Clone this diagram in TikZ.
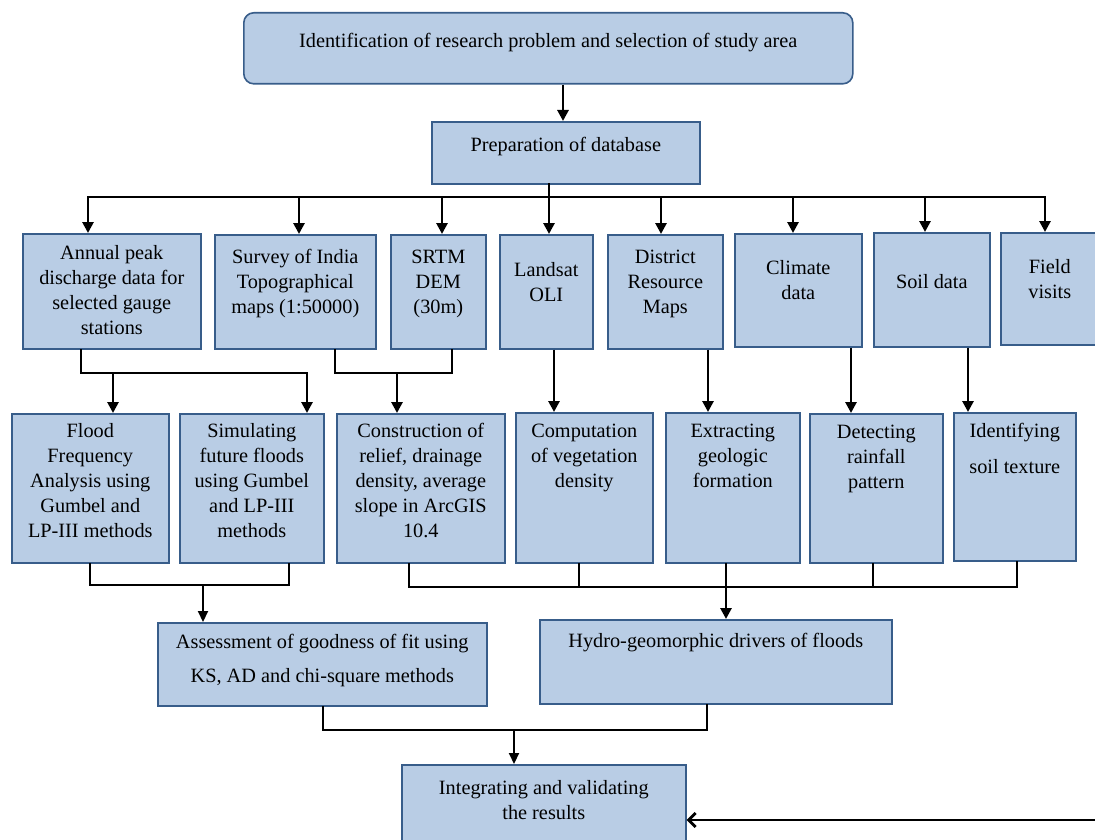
\documentclass[tikz,border=0pt]{standalone}
\usepackage{fontspec}
\setmainfont{Liberation Serif}
\usetikzlibrary{arrows.meta}
\definecolor{boxfill}{HTML}{B9CDE5}
\definecolor{boxline}{HTML}{385D8A}
\newcommand\bxt[4]{\begin{minipage}[c][#2pt][t]{#1pt}\centering\vspace*{#3pt}\strut #4\end{minipage}}
\begin{document}
\begin{tikzpicture}[x=1pt,y=-1pt,
  box/.style={draw=boxline, fill=boxfill, line width=1.6pt, inner sep=0pt, anchor=north west,
              font=\fontsize{20.3}{25}\selectfont},
  ln/.style={line width=2.1pt, line cap=rect},
  arr/.style={line width=2.8pt, -{Triangle[length=11pt,width=11pt]}},
  arrs/.style={line width=2.1pt, -{Triangle[length=11pt,width=10pt]}}]
\fill[white] (0,0) rectangle (1095,840);
\useasboundingbox (0,0) rectangle (1095,840);

% boxes
\node[box, rounded corners=10pt] (top) at (243,12) {\bxt{609}{71}{17}{Identification of research problem and selection of study area}};
\node[box] (prep) at (431,121) {\bxt{268}{62}{12}{Preparation of database}};

\node[box] (annual) at (22,233) {\bxt{178}{115}{8}{Annual peak\\discharge data for\\selected gauge\\stations}};
\node[box] (survey) at (214,234) {\bxt{161}{114}{11}{Survey of India\\Topographical\\maps (1:50000)}};
\node[box] (srtm) at (390,234) {\bxt{95}{114}{11}{SRTM\\DEM\\(30m)}};
\node[box] (landsat) at (499,234) {\bxt{93}{114}{24}{Landsat\\OLI}};
\node[box] (district) at (607,234) {\bxt{115}{114}{11}{District\\Resource\\Maps}};
\node[box] (climate) at (734,233) {\bxt{127}{113}{23}{Climate\\data}};
\node[box] (soil) at (873,232) {\bxt{116}{114}{38}{Soil data}};
\node[box] (field) at (1000,232) {\bxt{98}{112}{23}{Field\\visits}};

\node[box] (flood) at (11,413) {\bxt{157}{149}{6}{Flood\\Frequency\\Analysis using\\Gumbel and\\LP-III methods}};
\node[box] (sim) at (179,413) {\bxt{144}{149}{6}{Simulating\\future floods\\using Gumbel\\and LP-III\\methods}};
\node[box] (constr) at (336,413) {\bxt{168}{149}{6}{Construction of\\relief, drainage\\density, average\\slope in ArcGIS\\10.4}};
\node[box] (comp) at (515,412) {\bxt{137}{150}{7}{Computation\\of vegetation\\density}};
\node[box] (extr) at (665,412) {\bxt{134}{150}{7}{Extracting\\geologic\\formation}};
\node[box] (detect) at (809,413) {\bxt{133}{149}{7}{Detecting\\rainfall\\pattern}};
\node[box] (ident) at (953,412) {\bxt{122}{148}{7}{Identifying\\[11pt]soil texture}};

\node[box] (assess) at (157,622) {\bxt{329}{83}{8}{Assessment of goodness of fit using\\[9pt]KS, AD and chi-square methods}};
\node[box] (hydro) at (539,619) {\bxt{352}{84}{10}{Hydro-geomorphic drivers of floods}};
\node[box] (integ) at (401,764) {\bxt{284}{85}{12}{Integrating and validating\\the results}};

% top -> prep
\coordinate (a0) at (563,100);
\draw[arr] (top.south -| a0) -- (prep.north -| a0);

% prep -> data sources
\coordinate (b1) at (88,197);  \coordinate (b2) at (299,197);
\coordinate (b3) at (442,197); \coordinate (b4) at (549,197);
\coordinate (b5) at (661,197); \coordinate (b6) at (793,197);
\coordinate (b7) at (925,197); \coordinate (b8) at (1045,197);
\draw[ln, line width=2.6pt] (prep.south -| b4) -- (b4);
\draw[ln, line width=2.6pt] (b1) -- (b8);
\foreach \c/\n in {b1/annual,b2/survey,b3/srtm,b4/landsat,b5/district,b6/climate,b7/soil,b8/field}
  \draw[arr] (\c) -- (\n.north -| \c);

% data sources -> analyses
\coordinate (c1) at (81,373); \coordinate (c2) at (113,373); \coordinate (c3) at (307,373);
\draw[ln] (annual.south -| c1) -- (c1) -- (c3);
\draw[arr] (c2) -- (flood.north -| c2);
\draw[arr] (c3) -- (sim.north -| c3);

\coordinate (d1) at (335,373); \coordinate (d2) at (397,373); \coordinate (d3) at (452,373);
\draw[ln] (survey.south -| d1) -- (d1) -- (d3) -- (srtm.south -| d3);
\draw[arr] (d2) -- (constr.north -| d2);

\coordinate (e1) at (554,380); \coordinate (e2) at (708,380);
\coordinate (e3) at (851,380); \coordinate (e4) at (968,380);
\draw[arr] (landsat.south -| e1) -- (comp.north -| e1);
\draw[arr] (district.south -| e2) -- (extr.north -| e2);
\draw[arr] (climate.south -| e3) -- (detect.north -| e3);
\draw[arr] (soil.south -| e4) -- (ident.north -| e4);

% analyses -> assessment / drivers
\coordinate (f1) at (90,585); \coordinate (f2) at (203,585); \coordinate (f3) at (289,585);
\draw[ln] (flood.south -| f1) -- (f1) -- (f3) -- (sim.south -| f3);
\draw[arrs] (f2) -- (assess.north -| f2);

\coordinate (g1) at (409,587); \coordinate (g2) at (579,587); \coordinate (g3) at (726,587);
\coordinate (g4) at (873,587); \coordinate (g5) at (1017,587);
\draw[ln] (constr.south -| g1) -- (g1) -- (g5) -- (ident.south -| g5);
\draw[ln] (comp.south -| g2) -- (g2);
\draw[ln] (extr.south -| g3) -- (g3);
\draw[ln] (detect.south -| g4) -- (g4);
\draw[arr] (g3) -- (hydro.north -| g3);

% -> integrating
\coordinate (h1) at (323,730); \coordinate (h2) at (514,730); \coordinate (h3) at (707,730);
\draw[ln] (assess.south -| h1) -- (h1) -- (h3) -- (hydro.south -| h3);
\draw[arrs] (h2) -- (integ.north -| h2);

\coordinate (r0) at (1095,820);
\draw[line width=2.8pt, -{Straight Barb[length=7pt,width=14pt]}] (r0) -- (integ.east |- r0);
\end{tikzpicture}
\end{document}
